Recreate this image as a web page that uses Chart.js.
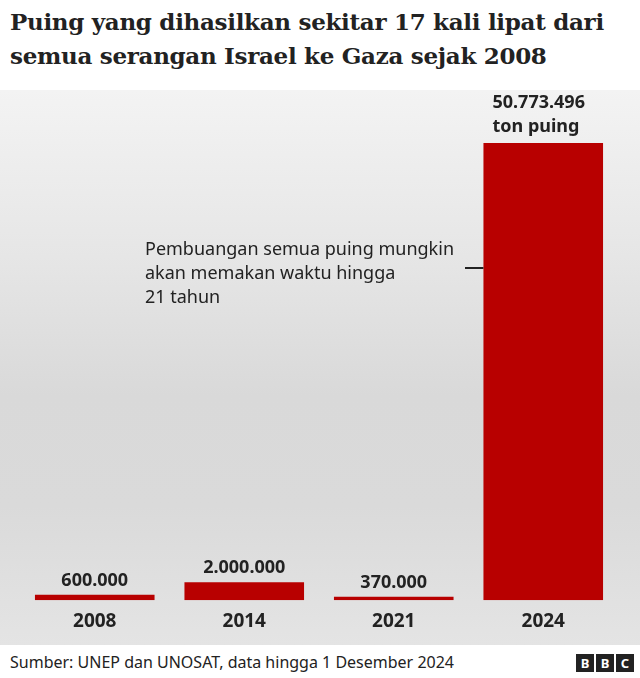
<!DOCTYPE html>
<html><head><meta charset="utf-8">
<script src="https://cdn.jsdelivr.net/npm/chart.js@4"></script>
<style>
body{margin:0;width:640px;height:678px;background:#fff;font-family:"Noto Sans",sans-serif;position:relative;overflow:hidden}
#title{position:absolute;left:10px;top:5px;font-family:"DejaVu Serif","Liberation Serif",serif;font-weight:bold;font-size:23px;line-height:34px;color:#222;letter-spacing:-0.3px}
#bg{position:absolute;left:0;top:90px;width:640px;height:555px;background:linear-gradient(#f3f3f3 0%,#e6e6e6 30%,#d9d9d9 55%,#dadada 75%,#e4e4e4 100%)}
#wrap{position:absolute;left:0;top:90px;width:640px;height:555px}
#foot{position:absolute;left:10px;top:651px;font-size:16px;color:#222}
.bbc{position:absolute;top:654px;width:18px;height:18px;background:#222;color:#fff;font-weight:bold;font-size:13px;text-align:center;line-height:18px}
</style></head><body>
<div id="title">Puing yang dihasilkan sekitar 17 kali lipat dari<br>semua serangan Israel ke Gaza sejak 2008</div>
<div id="bg"></div>
<div id="wrap"><canvas id="c" width="640" height="555"></canvas></div>
<div id="foot">Sumber: UNEP dan UNOSAT, data hingga 1 Desember 2024</div>
<div class="bbc" style="left:576px">B</div><div class="bbc" style="left:596px">B</div><div class="bbc" style="left:616px">C</div>
<script>
const categories=["2008","2014","2021","2024"];
const rubble=[600000,2000000,370000,50773496];
const valueLabels=[["600.000"],["2.000.000"],["370.000"],["50.773.496","ton puing"]];
const noteLines=["Pembuangan semua puing mungkin","akan memakan waktu hingga","21 tahun"];
const labelPlugin={id:"lbl",afterDatasetsDraw(ch){
 const ctx=ch.ctx,meta=ch.getDatasetMeta(0);
 ctx.save();ctx.fillStyle="#222";ctx.font="bold 18px 'Noto Sans'";ctx.textAlign="center";
 meta.data.forEach((b,i)=>{const L=valueLabels[i];
  if(L.length>1){ctx.textAlign="left";L.forEach((t,j)=>ctx.fillText(t,b.x-b.width/2+9,b.y-35+j*24));ctx.textAlign="center";}
  else ctx.fillText(L[0],b.x,b.y-9);});
 ctx.textAlign="left";ctx.font="18px 'Noto Sans'";
 noteLines.forEach((t,j)=>ctx.fillText(t,145,165+j*24));
 const b=meta.data[3];ctx.strokeStyle="#222";ctx.lineWidth=2;
 ctx.beginPath();ctx.moveTo(465,178);ctx.lineTo(b.x-b.width/2,178);ctx.stroke();
 ctx.restore();}};
new Chart(document.getElementById("c"),{type:"bar",
 data:{labels:categories,datasets:[{data:rubble,backgroundColor:"#b80000",barPercentage:0.8,categoryPercentage:1}]},
 options:{responsive:false,animation:false,
  layout:{padding:{left:20,right:22,top:53,bottom:10}},
  plugins:{legend:{display:false},tooltip:{enabled:false}},
  scales:{y:{display:false,min:0,max:50773496},
   x:{grid:{display:false},border:{display:false},ticks:{color:"#222",font:{size:19,weight:"bold",family:"Noto Sans"},padding:2}}}},
 plugins:[labelPlugin]});
</script></body></html>
